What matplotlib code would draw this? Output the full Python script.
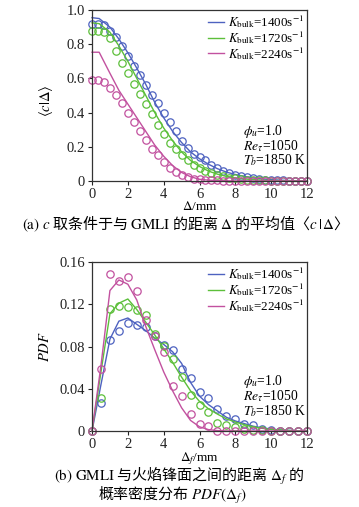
import numpy as np
import matplotlib
matplotlib.use("Agg")
from matplotlib import pyplot as plt

plt.rcParams['font.family'] = ['Liberation Serif', 'Noto Sans CJK SC']
plt.rcParams['mathtext.fontset'] = 'stix'

# ---- data ----
labels = [r'$K_{\rm bulk}$=1400s$^{-1}$', r'$K_{\rm bulk}$=1720s$^{-1}$', r'$K_{\rm bulk}$=2240s$^{-1}$']
colors = ['#4e62c0', '#5cbf3a', '#c2519f']

# (a) conditional mean <c|Delta>
x_pts_a = np.linspace(0, 12, 37)
c_blue_pts = [0.92, 0.92, 0.91, 0.88, 0.84, 0.79, 0.73, 0.675, 0.62, 0.56, 0.505, 0.455, 0.40,
              0.345, 0.29, 0.235, 0.195, 0.16, 0.14, 0.12, 0.095, 0.077, 0.06, 0.047, 0.037,
              0.028, 0.021, 0.015, 0.011, 0.008, 0.006, 0.004, 0.003, 0.002, 0.001, 0.001, 0.0]
c_green_pts = [0.876, 0.876, 0.872, 0.835, 0.76, 0.69, 0.63, 0.57, 0.51, 0.45, 0.39, 0.33, 0.275,
               0.225, 0.185, 0.15, 0.12, 0.095, 0.075, 0.058, 0.045, 0.035, 0.027, 0.02, 0.015,
               0.011, 0.008, 0.006, 0.004, 0.003, 0.002, 0.001, 0.001, 0.0, 0.0, 0.0, 0.0]
c_purple_pts = [0.592, 0.592, 0.578, 0.545, 0.50, 0.455, 0.40, 0.345, 0.29, 0.24, 0.19, 0.15, 0.11,
                0.077, 0.052, 0.035, 0.022, 0.014, 0.009, 0.006, 0.004, 0.003, 0.002, 0.001, 0.0,
                0.0, 0.0, 0.0, 0.0, 0.0, 0.0, 0.0, 0.0, 0.0, 0.0, 0.0, 0.0]

x_line_a = [0, 0.4, 1, 1.5, 2, 2.5, 3, 3.5, 4, 4.5, 5, 5.5, 6, 6.5, 7, 7.5, 8, 8.5, 9, 9.5, 10, 10.5, 11, 11.5, 12]
c_blue_line = [0.955, 0.95, 0.90, 0.83, 0.75, 0.66, 0.565, 0.46, 0.37, 0.29, 0.225, 0.17, 0.13,
               0.098, 0.072, 0.052, 0.038, 0.027, 0.018, 0.012, 0.008, 0.005, 0.003, 0.001, 0.0]
c_green_line = [0.925, 0.92, 0.87, 0.79, 0.70, 0.60, 0.50, 0.40, 0.31, 0.235, 0.17, 0.12, 0.085,
                0.058, 0.04, 0.027, 0.018, 0.012, 0.008, 0.005, 0.003, 0.002, 0.001, 0.0, 0.0]
c_purple_line = [0.753, 0.753, 0.63, 0.53, 0.45, 0.37, 0.29, 0.21, 0.145, 0.09, 0.05, 0.025, 0.01,
                 0.005, 0.002, 0.001, 0.0, 0.0, 0.0, 0.0, 0.0, 0.0, 0.0, 0.0, 0.0]

# (b) PDF of Delta_f
x_pts_b = np.arange(0, 12.01, 0.5)
pdf_blue_pts = [0.0, 0.0266, 0.086, 0.0945, 0.102, 0.100, 0.0987, 0.090, 0.0816, 0.077, 0.059, 0.050,
                0.037, 0.031, 0.021, 0.014, 0.011, 0.007, 0.0054, 0.002, 0.0006, 0.0, 0.0, 0.0, 0.0]
pdf_green_pts = [0.0, 0.031, 0.1157, 0.1186, 0.117, 0.115, 0.110, 0.092, 0.0806, 0.068, 0.051, 0.034,
                 0.025, 0.018, 0.008, 0.006, 0.004, 0.002, 0.001, 0.0005, 0.0, 0.0, 0.0, 0.0, 0.0]
pdf_purple_pts = [0.0, 0.059, 0.1486, 0.142, 0.1455, 0.133, 0.105, 0.090, 0.075, 0.0427, 0.033, 0.0158,
                  0.007, 0.0047, 0.0, 0.0, 0.0, 0.0, 0.0, 0.0, 0.0, 0.0, 0.0, 0.0, 0.0]

x_line_b = np.arange(0, 12.01, 0.5)
pdf_blue_line = [0.0, 0.044, 0.087, 0.104, 0.107, 0.101, 0.095, 0.088, 0.082, 0.075, 0.064, 0.046,
                 0.033, 0.025, 0.019, 0.013, 0.0095, 0.007, 0.0045, 0.003, 0.0018, 0.001, 0.0006, 0.0002, 0.0]
pdf_green_line = [0.0, 0.056, 0.111, 0.121, 0.125, 0.115, 0.103, 0.091, 0.078, 0.065, 0.051, 0.038,
                  0.028, 0.021, 0.016, 0.0115, 0.0085, 0.006, 0.004, 0.0025, 0.0015, 0.001, 0.0005, 0.0002, 0.0]
pdf_purple_line = [0.0, 0.062, 0.133, 0.143, 0.139, 0.124, 0.099, 0.077, 0.056, 0.038, 0.022, 0.010,
                   0.004, 0.0013, 0.0004, 0.0, 0.0, 0.0, 0.0, 0.0, 0.0, 0.0, 0.0, 0.0, 0.0]

fig = plt.figure(figsize=(3.59, 5.07), dpi=100)
ax1 = fig.add_axes([0.2563, 0.643, 0.5989, 0.3373])
ax2 = fig.add_axes([0.2563, 0.1499, 0.5989, 0.3333])


def style_axes(ax, ylim, yticks, yfmt):
    ax.set_xlim(0, 12)
    ax.set_ylim(*ylim)
    ax.set_xticks(range(0, 13, 2))
    ax.set_yticks(yticks)
    ax.set_yticklabels([yfmt(v) for v in yticks])
    ax.tick_params(direction='out', length=3, width=0.8, labelsize=10.5, pad=2, colors='#222222')
    for s in ax.spines.values():
        s.set_linewidth(0.9)
        s.set_color('#333333')


def add_conditions(ax):
    ax.text(0.70, 0.29, r'$\phi_u$=1.0', transform=ax.transAxes, fontsize=9.8, va='center')
    ax.text(0.70, 0.205, r'$Re_\tau$=1050', transform=ax.transAxes, fontsize=9.8, va='center')
    ax.text(0.70, 0.12, r'$T_b$=1850 K', transform=ax.transAxes, fontsize=9.8, va='center')


def add_legend(ax):
    ax.legend(loc='upper right', frameon=False, fontsize=9.4, handlelength=1.2, handletextpad=0.3,
              labelspacing=-0.08, borderaxespad=0.1, borderpad=0.15)


# ---- (a) ----
for pts, line, col, lab in zip([c_blue_pts, c_green_pts, c_purple_pts],
                               [c_blue_line, c_green_line, c_purple_line], colors, labels):
    ax1.plot(x_line_a, line, color=col, lw=1.0, label=lab, clip_on=False)
    ax1.plot(x_pts_a, pts, 'o', mfc='none', mec=col, ms=5.3, mew=0.9, clip_on=False)
style_axes(ax1, (0, 1.0), [0, 0.2, 0.4, 0.6, 0.8, 1.0],
           lambda v: '0' if v == 0 else f'{v:.1f}')
ax1.set_ylabel(r'$\langle c|\mathit{\Delta}\rangle$', fontsize=10.5)
ax1.yaxis.set_label_coords(-0.172, 0.47)
ax1.set_xlabel(r'$\mathit{\Delta}$/mm', fontsize=9.5)
ax1.xaxis.set_label_coords(0.5, -0.11)
add_legend(ax1)
add_conditions(ax1)

# ---- (b) ----
for pts, line, col, lab in zip([pdf_blue_pts, pdf_green_pts, pdf_purple_pts],
                               [pdf_blue_line, pdf_green_line, pdf_purple_line], colors, labels):
    ax2.plot(x_line_b, line, color=col, lw=1.0, label=lab, clip_on=False)
    ax2.plot(x_pts_b, pts, 'o', mfc='none', mec=col, ms=5.3, mew=0.9, clip_on=False)
style_axes(ax2, (0, 0.16), [0, 0.04, 0.08, 0.12, 0.16],
           lambda v: '0' if v == 0 else f'{v:.2f}')
ax2.set_ylabel(r'$PDF$', fontsize=10.5)
ax2.yaxis.set_label_coords(-0.186, 0.50)
ax2.set_xlabel(r'$\mathit{\Delta}_f$/mm', fontsize=9.5)
ax2.xaxis.set_label_coords(0.5, -0.112)
add_legend(ax2)
add_conditions(ax2)

# ---- captions ----
cap = dict(fontsize=10.8, family=['Noto Sans CJK SC', 'DejaVu Sans'], ha='center', va='center')
fig.text(0.506, 1 - 224 / 507,
         r'$\mathrm{(a)}$ $c$ 取条件于与 $\mathrm{GMLI}$ 的距离 $\Delta$ 的平均值〈$c\,|\,\Delta$〉', **cap)
fig.text(0.50, 1 - 476 / 507,
         r'$\mathrm{(b)\ GMLI}$ 与火焰锋面之间的距离 $\Delta_f$ 的', **cap)
fig.text(0.48, 1 - 496 / 507, r'概率密度分布 $PDF(\Delta_f)$', **cap)

fig.savefig('out.png', dpi=100, facecolor='white')
